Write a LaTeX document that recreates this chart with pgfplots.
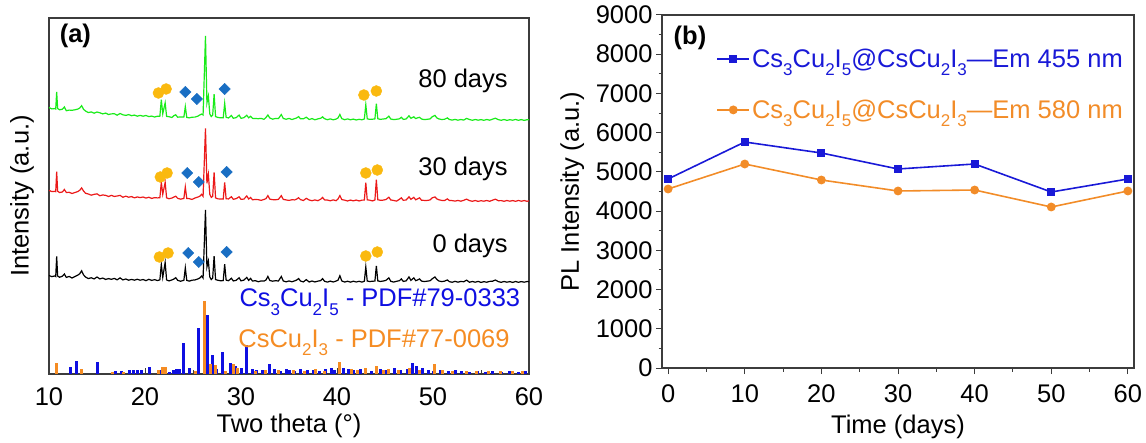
\documentclass[border=0pt]{standalone}
\usepackage{fontspec}
\setmainfont{Liberation Sans}
\usepackage{pgfplots}
\usepackage{pgfplotstable}
\pgfplotsset{compat=1.18}

\definecolor{xgreen}{RGB}{25,235,25}
\definecolor{xred}{RGB}{235,25,25}
\definecolor{pdfblue}{RGB}{15,15,225}
\definecolor{pdforange}{RGB}{245,140,35}
\definecolor{gold}{RGB}{250,185,15}
\definecolor{dia}{RGB}{25,110,195}
\definecolor{axgray}{RGB}{60,60,60}
\definecolor{bblue}{RGB}{25,25,215}
\definecolor{borange}{RGB}{242,140,40}

% Origin-style subscripts: larger and lower than \textsubscript
\newcommand\sub[1]{\raisebox{-0.32em}{\fontsize{17bp}{20bp}\selectfont #1}}

% XRD patterns: x, baseline drift d, and values above baseline for 0/30/80 days
\pgfplotstableread{
x d k r g
10.0 12 0.5 0.5 0.5
10.3 11.5 -0.4 -0.4 -0.4
10.6 11 0.6 0.3 0.4
10.7 11 0.0 0.0 0.0
10.8 11 20 20 17
10.9 11 0.5 0.5 0.5
11.1 10.5 -0.5 -0.5 -0.3
11.4 10.2 0.7 0.4 0.6
11.6 10 3 3 3
11.8 9.8 -0.3 0.2 -0.5
12.1 9.5 0.8 0.6 0.4
12.4 9.2 -0.6 -0.3 0.5
12.7 9 1.0 0.8 1.2
13.0 8.7 2.5 2 2.2
13.2 8.5 4 3.5 3.5
13.4 8.3 7 6 6
13.6 8.2 3 3 2.5
13.8 8 1 1 1
14.1 7.6 -0.4 0.5 -0.2
14.4 7.3 0.6 -0.4 0.8
14.7 7.1 -0.5 0.6 -0.3
15.0 7 1.5 1.2 1.0
15.3 6.8 -0.3 -0.5 0.4
15.6 6.5 0.7 0.5 -0.4
15.9 6.3 -0.6 0.3 0.6
16.2 6 0.4 -0.6 -0.5
16.5 5.8 -0.2 0.7 0.3
16.8 5.6 0.8 -0.2 0.7
17.1 5.4 -0.5 0.4 -0.6
17.4 5.2 1.5 1.2 1.3
17.7 5 -0.4 -0.5 0.2
18.0 5 0.5 0.6 -0.4
18.3 4.8 -0.6 -0.3 0.6
18.6 4.6 0.3 0.5 -0.3
18.9 4.4 -0.4 -0.6 0.5
19.2 4.3 0.6 0.4 -0.5
19.5 4.2 -0.3 -0.2 0.4
19.8 4 0.5 0.6 -0.2
20.1 3.9 -0.6 -0.4 0.6
20.4 3.8 0.8 0.5 -0.4
20.7 3.6 -0.2 -0.5 0.3
21.0 3.5 0.6 0.4 -0.5
21.3 3.4 -0.3 0.2 0.4
21.55 3.3 0.5 0.5 0.5
21.7 3.3 16 16 17
21.85 3.2 3 4 3
22.1 3.2 18 16 14
22.25 3.1 0.5 0.5 0.5
22.5 3 -0.4 -0.3 0.3
22.8 2.9 0.6 0.5 -0.4
23.0 2.8 1.5 1.5 1.5
23.2 2.7 3 2.5 2.5
23.4 2.6 0.4 0.5 0.2
23.7 2.5 -0.5 -0.3 0.6
24.05 2.4 0.5 0.5 0.5
24.2 2.4 13 12 11
24.35 2.3 0.5 0.6 0.3
24.6 2.3 -0.3 0.4 -0.2
24.9 2.2 0.7 -0.3 0.6
25.2 2.1 1.0 1.2 0.8
25.5 2 2 2.2 1.8
25.7 2 3 3 3
25.9 2 5 5 4
26.05 2 3 3 3
26.3 2 71 71 82
26.45 2 14 16 15
26.6 2 20 25 22
26.75 2 4 5 4
26.9 1.9 1.5 2 1.5
27.05 1.9 3 3 3
27.2 1.9 25 27 24
27.35 1.9 1.5 1.5 1.5
27.6 1.8 0.8 0.6 0.7
27.9 1.8 0.3 0.5 0.4
28.15 1.7 0.6 0.5 0.6
28.3 1.7 17 17 15
28.45 1.7 1.0 0.8 1.0
28.7 1.6 0.5 0.7 0.4
29.0 1.5 3 3 3
29.2 1.5 0.3 0.4 0.2
29.5 1.4 1 1.2 1.0
29.8 1.4 3.5 3 3.5
30.0 1.3 0.5 0.6 0.4
30.3 1.3 1.2 0.8 1.0
30.6 1.2 4 4 3.5
30.8 1.2 1.0 1.0 1.0
31.0 1.2 3 2.5 2.5
31.2 1.1 0.4 0.3 0.5
31.5 1.1 0.8 0.6 0.4
31.8 1.1 -0.3 0.4 0.2
32.1 1.0 0.6 -0.2 0.6
32.4 1.0 0.4 0.7 -0.3
32.6 1.0 1.5 1.5 1.5
32.8 1.0 5 4.5 4
33.0 1.0 1.0 1.0 1.0
33.3 1.0 0.3 0.5 -0.2
33.6 1.0 0.8 0.4 0.6
33.9 1.0 0.5 0.8 0.4
34.2 1.0 5 4.5 4.5
34.4 1.0 0.6 0.8 0.6
34.7 0.9 -0.3 0.3 -0.2
35.0 0.9 0.6 -0.2 0.7
35.3 0.9 -0.2 0.5 -0.4
35.6 0.9 0.7 0.3 0.5
35.8 0.9 1.5 1.2 1.2
36.0 0.9 3 2.5 2.5
36.2 0.9 0.5 0.6 0.3
36.5 0.8 -0.3 -0.2 0.4
36.8 0.8 2 2 2
37.1 0.8 -0.4 0.3 -0.3
37.4 0.8 0.6 -0.4 0.6
37.7 0.7 -0.3 0.5 -0.5
38.0 0.7 0.5 -0.3 0.4
38.3 0.7 1.0 1.2 1.0
38.5 0.7 3 3 2.5
38.7 0.7 0.4 0.5 0.6
39.0 0.6 -0.4 0.4 -0.3
39.3 0.6 0.6 -0.3 0.5
39.6 0.6 -0.3 0.6 -0.4
39.9 0.6 0.6 -0.2 0.3
40.1 0.5 1.5 1.5 1.5
40.3 0.5 6 5 5
40.5 0.5 0.8 1.0 0.8
40.8 0.5 -0.3 0.4 -0.2
41.1 0.5 0.5 -0.4 0.6
41.4 0.5 -0.4 0.5 -0.3
41.7 0.4 0.6 -0.2 0.5
42.0 0.4 -0.2 0.6 -0.4
42.3 0.4 0.5 -0.3 0.3
42.6 0.4 -0.3 0.5 -0.2
42.85 0.4 0.6 0.6 0.6
43.0 0.4 15 18 15
43.15 0.4 0.8 0.8 0.8
43.4 0.4 0.3 0.5 0.2
43.7 0.3 0.6 -0.2 0.5
43.95 0.3 0.8 0.8 0.8
44.1 0.3 16 21 16
44.25 0.3 1.0 1.0 1.0
44.5 0.3 0.4 0.5 0.3
44.8 0.3 0.8 0.6 0.7
45.1 0.3 1.5 1.2 1.0
45.4 0.3 4 3.5 3.5
45.6 0.3 0.6 0.8 0.7
45.9 0.2 -0.2 0.4 0.2
46.2 0.2 0.6 -0.3 0.5
46.5 0.2 1.2 1.5 1.0
46.7 0.2 3 3 2.5
46.9 0.2 0.5 0.6 0.4
47.2 0.2 1.0 0.8 0.8
47.5 0.2 5 4 4
47.7 0.2 1.5 1.5 1.5
48.0 0.2 4 3.5 3
48.2 0.2 1.2 1.0 1.2
48.4 0.2 2 2 2
48.6 0.2 3 3 2.5
48.8 0.2 0.8 0.6 0.8
49.1 0.1 0.4 0.5 0.3
49.4 0.1 0.8 0.5 0.6
49.7 0.1 1.2 1.0 1.0
49.9 0.1 3 3 3
50.2 0.1 5 4 4.5
50.4 0.1 2.5 2 2
50.6 0.1 1.0 1.2 1.0
50.9 0.1 0.3 0.5 0.4
51.2 0.1 0.8 0.4 0.6
51.5 0.1 2 2 2
51.7 0.1 0.3 0.5 0.4
52.0 0.1 -0.3 0.3 -0.2
52.3 0.1 0.6 -0.2 0.5
52.6 0.1 -0.2 0.5 -0.3
52.9 0.1 0.5 -0.3 0.4
53.2 0.1 0.2 0.6 -0.2
53.5 0.1 1.8 1.8 1.5
53.8 0.1 -0.3 0.3 0.4
54.1 0.0 0.5 -0.3 -0.3
54.4 0.0 -0.2 0.5 0.5
54.7 0.0 0.6 -0.4 -0.2
55.0 0.0 -0.4 0.3 0.4
55.3 0.0 0.3 -0.2 -0.3
55.6 0.0 -0.2 0.5 0.5
55.9 0.0 0.6 -0.3 -0.2
56.2 0.0 0.8 0.8 0.8
56.5 0.0 2 1.8 1.8
56.8 0.0 0.4 0.3 0.4
57.1 0.0 -0.3 0.4 -0.3
57.4 0.0 0.5 -0.3 0.5
57.7 0.0 -0.2 0.5 -0.4
58.0 0.0 0.4 -0.2 0.3
58.3 0.0 -0.4 0.4 -0.2
58.6 0.0 0.5 -0.3 0.5
58.9 0.0 -0.3 0.5 -0.3
59.2 0.0 0.4 -0.2 0.4
59.5 0.0 -0.2 0.4 -0.4
59.8 0.0 0.5 -0.3 0.3
60.0 0.0 0.2 0.2 0.2
}\xrd

% reference pattern sticks
\pgfplotstableread{
x h
12.2 7
12.9 13
15.0 12
16.9 3
17.5 3
18.4 4
18.8 4
19.2 4
19.6 4
20.5 7
21.5 4
22.6 2
23.0 4
23.3 5
23.6 5
24.0 31
24.6 6
25.6 46
26.5 59
27.0 19
27.4 5
28.1 22
28.9 11
29.4 8
30.0 6
30.6 29
31.2 5
31.6 4
32.2 4
33.0 10
33.5 5
34.1 3
34.7 5
35.1 4
35.6 3
36.2 5
36.9 4
37.5 4
38.2 3
38.8 5
39.4 6
39.7 4
40.7 6
41.2 5
41.7 4
42.4 5
43.0 4
43.6 3
44.5 5
45.2 4
46.0 6
46.6 4
47.3 5
47.9 11
48.3 8
48.9 6
49.5 4
50.1 3
50.8 4
51.6 3
52.3 4
53.0 3
53.8 2
54.6 3
55.5 2
56.2 3
57.1 2
58.0 3
58.9 2
59.6 3
}\pdfa

\pgfplotstableread{
x h
10.8 11
13.4 5
16.6 2
17.8 2
21.4 4
21.8 7
22.1 7
25.3 3
26.2 73
26.8 10
27.3 9
28.4 3
29.2 10
29.6 6
31.5 3
32.5 4
33.9 4
35.5 4
36.6 3
37.8 5
38.7 3
40.3 12
41.5 5
42.1 4
43.0 6
44.1 8
44.8 4
45.4 5
46.4 4
47.5 6
48.6 4
50.2 10
51.0 4
52.0 3
53.5 3
54.5 3
55.8 3
57.0 3
58.3 3
59.3 3
}\pdfb

\begin{document}
\begin{tikzpicture}[font=\fontsize{25.5bp}{30bp}\selectfont]
\useasboundingbox (0,0) rectangle (1146bp,443bp);

% ---------- (a) XRD ----------
\begin{axis}[
  at={(49bp,69bp)}, anchor=south west,
  scale only axis, width=480bp, height=356bp,
  xmin=10, xmax=60, ymin=0, ymax=356,
  xtick={10,20,...,60}, minor x tick num=1,
  ytick=\empty, xtick pos=bottom, tick align=inside,
  major tick length=6bp, minor tick length=4bp,
  axis line style={axgray, line width=1.1pt},
  every tick/.style={axgray, line width=1pt},
  xticklabel style={yshift=-10bp},
  /pgf/number format/assume math mode=true,
  xlabel={Two theta (°)}, ylabel={Intensity (a.u.)},
  xlabel style={at={(axis description cs:0.5,-0.145)}, anchor=center},
  ylabel style={at={(axis description cs:-0.056,0.5)}, anchor=center},
  clip=false,
]
\addplot[ycomb, pdfblue, line width=3bp] table[x=x, y=h] {\pdfa};
\addplot[ycomb, pdforange, line width=3bp] table[x=x, y=h] {\pdfb};
\addplot[black, line width=1.2pt] table[x=x, y expr=92+0.5*\thisrow{d}+\thisrow{k}] {\xrd};
\addplot[xred, line width=1.2pt] table[x=x, y expr=173+0.85*\thisrow{d}+\thisrow{r}] {\xrd};
\addplot[xgreen, line width=1.2pt] table[x=x, y expr=254+\thisrow{d}+\thisrow{g}] {\xrd};
% phase markers
\addplot[only marks, mark=*, gold, mark size=5.5bp] coordinates {
  (21.4,281) (22.2,285) (42.8,279) (44.1,283)
  (21.6,197) (22.3,201) (43.0,201) (44.2,204)
  (21.5,117) (22.4,121) (43.0,118) (44.2,122)};
\addplot[only marks, mark=square*, dia, mark size=4bp, mark options={rotate=45}] coordinates {
  (24.2,282) (25.4,275) (28.3,285)
  (24.4,201) (25.6,192) (28.5,202)
  (24.5,121) (25.6,112) (28.5,122)};
\node[anchor=base east, inner sep=0pt] at (axis cs:57.8,286) {80 days};
\node[anchor=base east, inner sep=0pt] at (axis cs:57.8,198) {30 days};
\node[anchor=base east, inner sep=0pt] at (axis cs:57.8,121) {0 days};
\node[anchor=base east, inner sep=0pt, text=pdfblue] at (axis cs:59.1,67) {Cs\sub{3}Cu\sub{2}I\sub{5} - PDF\#79-0333};
\node[anchor=base east, inner sep=0pt, text=pdforange] at (axis cs:58.0,27) {CsCu\sub{2}I\sub{3} - PDF\#77-0069};
\node[anchor=base west, inner sep=0pt, font=\fontsize{25.5bp}{30bp}\selectfont\bfseries] at (axis cs:11.1,331) {(a)};
\end{axis}

% ---------- (b) PL intensity ----------
\begin{axis}[
  at={(662bp,75bp)}, anchor=south west,
  scale only axis, width=472bp, height=353bp,
  xmin=-0.8, xmax=60.8, ymin=0, ymax=9000,
  xtick={0,10,...,60}, ytick={0,1000,...,9000},
  minor x tick num=1, minor y tick num=1,
  xtick pos=bottom, ytick pos=left, tick align=outside,
  major tick length=6bp, minor tick length=3.5bp,
  axis line style={axgray, line width=1.1pt},
  every tick/.style={axgray, line width=1pt},
  scaled y ticks=false,
  xticklabel style={yshift=-7bp},
  yticklabel style={/pgf/number format/.cd, fixed, 1000 sep={}},
  /pgf/number format/assume math mode=true,
  xlabel={Time (days)}, ylabel={PL Intensity (a.u.)},
  xlabel style={at={(axis description cs:0.5,-0.167)}, anchor=center},
  ylabel style={at={(axis description cs:-0.19,0.5)}, anchor=center},
  legend style={draw=none, fill=none, at={(0.115,0.91)}, anchor=north west,
    row sep=27bp, inner sep=0pt, font=\fontsize{25.5bp}{30bp}\selectfont},
  legend cell align=left,
  legend image code/.code={\draw[mark repeat=2, mark phase=2] plot coordinates {(0bp,0bp) (16bp,0bp) (32bp,0bp)};},
  clip=false,
]
\addplot[bblue, line width=1.6pt, mark=square*, mark size=3.2bp] coordinates {
  (0,4820) (10,5762) (20,5482) (30,5074) (40,5201) (50,4487) (60,4819)};
\addlegendentry{\textcolor{bblue}{Cs\sub{3}Cu\sub{2}I\sub{5}@CsCu\sub{2}I\sub{3}—Em 455 nm}}
\addplot[borange, line width=1.6pt, mark=*, mark size=3.6bp] coordinates {
  (0,4564) (10,5201) (20,4793) (30,4513) (40,4538) (50,4105) (60,4513)};
\addlegendentry{\textcolor{borange}{Cs\sub{3}Cu\sub{2}I\sub{5}@CsCu\sub{2}I\sub{3}—Em 580 nm}}
\node[anchor=base west, inner sep=0pt, font=\fontsize{25.5bp}{30bp}\selectfont\bfseries] at (axis cs:0.7,8260) {(b)};
\end{axis}
\end{tikzpicture}
\end{document}
